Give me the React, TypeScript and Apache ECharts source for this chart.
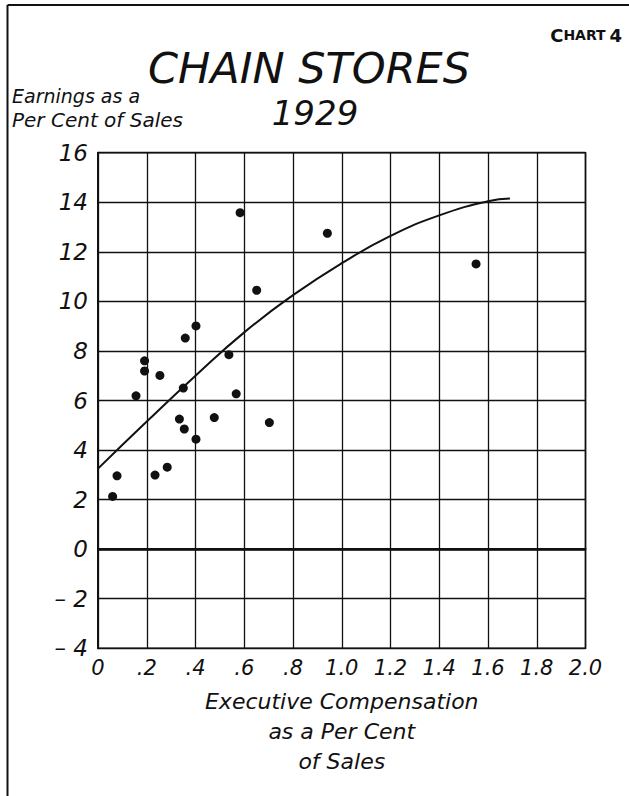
import React, { useEffect, useRef } from "react";
import * as echarts from "echarts";

const xTickLabels = ["0", ".2", ".4", ".6", ".8", "1.0", "1.2", "1.4", "1.6", "1.8", "2.0"];
const yTickValues = [-4, -2, 0, 2, 4, 6, 8, 10, 12, 14, 16];
const yTickLabels = ["– 4", "– 2", "0", "2", "4", "6", "8", "10", "12", "14", "16"];

// Executive compensation (% of sales), earnings (% of sales)
const storeComp = [0.583, 0.941, 0.651, 0.402, 0.358, 0.537, 0.191, 0.191, 0.254, 0.35, 0.156, 0.567, 0.334, 0.354, 0.477, 0.402, 0.703, 0.078, 0.234, 0.284, 0.06, 1.551];
const storeEarn = [13.58, 12.75, 10.45, 9.01, 8.52, 7.85, 7.6, 7.19, 7.01, 6.5, 6.19, 6.27, 5.25, 4.85, 5.31, 4.44, 5.11, 2.96, 2.99, 3.31, 2.13, 11.51];

const curveX = [0, 0.2, 0.4, 0.6, 0.8, 1.0, 1.2, 1.4, 1.6, 1.69];
const curveY = [3.25, 5.15, 7.0, 8.75, 10.25, 11.54, 12.64, 13.47, 14.04, 14.15];

const FONT = "DejaVu Sans";
const INK = "#111";

export default function App() {
  const ref = useRef<HTMLDivElement>(null);
  useEffect(() => {
    if (!ref.current) return;
    const chart = echarts.init(ref.current, undefined, { renderer: "svg" });
    const xLabel = (v: number) => {
      const i = Math.round(v / 0.2);
      return xTickLabels[i] ?? "";
    };
    const yLabel = (v: number) => {
      const i = yTickValues.indexOf(Math.round(v));
      return i >= 0 ? yTickLabels[i] : "";
    };
    chart.setOption({
      animation: false,
      backgroundColor: "#fff",
      grid: {
        left: 98,
        right: 43.5,
        top: 152.7,
        bottom: 147.7,
        show: true,
        borderColor: INK,
        borderWidth: 1.6,
        backgroundColor: "transparent",
      },
      xAxis: {
        type: "value",
        min: 0,
        max: 2,
        interval: 0.2,
        axisLine: { show: true, lineStyle: { color: INK, width: 2 } },
        axisTick: { show: false },
        splitLine: { show: true, lineStyle: { color: INK, width: 1.3 } },
        axisLabel: {
          formatter: xLabel,
          color: INK,
          fontFamily: FONT,
          fontStyle: "italic",
          fontSize: 21,
          margin: 9,
        },
        name: "Executive Compensation\nas a Per Cent\nof Sales",
        nameLocation: "middle",
        nameGap: 38,
        nameTextStyle: {
          color: INK,
          fontFamily: FONT,
          fontStyle: "italic",
          fontSize: 22,
          lineHeight: 30,
        },
      },
      yAxis: {
        type: "value",
        min: -4,
        max: 16,
        interval: 2,
        axisLine: { show: true, lineStyle: { color: INK, width: 2 } },
        axisTick: { show: false },
        splitLine: { show: true, lineStyle: { color: INK, width: 1.3 } },
        axisLabel: {
          formatter: yLabel,
          color: INK,
          fontFamily: FONT,
          fontStyle: "italic",
          fontSize: 23,
          margin: 10,
        },
      },
      graphic: [
        {
          type: "line",
          shape: { x1: 7.5, y1: 5, x2: 7.5, y2: 796 },
          style: { stroke: INK, lineWidth: 2 },
        },
        {
          type: "line",
          shape: { x1: 7.5, y1: 5, x2: 629, y2: 5 },
          style: { stroke: INK, lineWidth: 2 },
        },
        {
          type: "text",
          x: 622,
          y: 35,
          style: {
            text: "{b|C}{s|HART} {b|4}",
            align: "right",
            verticalAlign: "middle",
            fill: INK,
            fontFamily: FONT,
            rich: {
              b: { fontSize: 18, fontFamily: FONT, fill: INK, fontWeight: "bold" },
              s: { fontSize: 14, fontFamily: FONT, fill: INK, fontWeight: "bold" },
            },
          },
        },
        {
          type: "text",
          x: 309,
          y: 68,
          style: {
            text: "CHAIN STORES",
            align: "center",
            verticalAlign: "middle",
            fill: INK,
            fontFamily: FONT,
            fontStyle: "italic",
            fontSize: 43,
          },
        },
        {
          type: "text",
          x: 315,
          y: 113,
          style: {
            text: "1929",
            align: "center",
            verticalAlign: "middle",
            fill: INK,
            fontFamily: FONT,
            fontStyle: "italic",
            fontSize: 34,
          },
        },
        {
          type: "text",
          x: 12,
          y: 96,
          style: {
            text: "Earnings as a",
            align: "left",
            verticalAlign: "middle",
            fill: INK,
            fontFamily: FONT,
            fontStyle: "italic",
            fontSize: 19,
          },
        },
        {
          type: "text",
          x: 12,
          y: 120,
          style: {
            text: "Per Cent of Sales",
            align: "left",
            verticalAlign: "middle",
            fill: INK,
            fontFamily: FONT,
            fontStyle: "italic",
            fontSize: 20,
          },
        },
      ],
      series: [
        {
          type: "line",
          data: curveX.map((x, i) => [x, curveY[i]]),
          smooth: 0.5,
          showSymbol: false,
          lineStyle: { color: INK, width: 2 },
          markLine: {
            silent: true,
            symbol: "none",
            label: { show: false },
            lineStyle: { color: INK, width: 2.6, type: "solid" },
            data: [{ yAxis: 0 }],
          },
        },
        {
          type: "scatter",
          data: storeComp.map((x, i) => [x, storeEarn[i]]),
          symbol: "circle",
          symbolSize: 9,
          itemStyle: { color: INK, opacity: 1 },
        },
      ],
    });
    return () => chart.dispose();
  }, []);
  return (
    <div
      ref={ref}
      style={{ position: "fixed", left: 0, top: 0, width: 629, height: 796 }}
    />
  );
}
